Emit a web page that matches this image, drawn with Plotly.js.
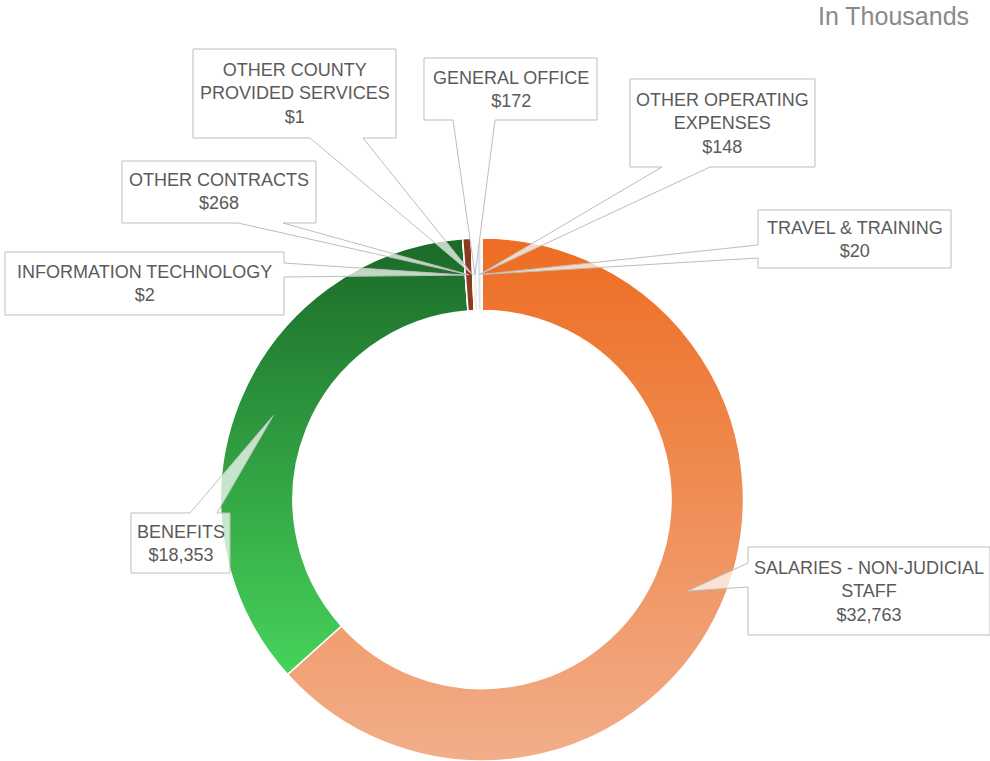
<!DOCTYPE html>
<html>
<head>
<meta charset="utf-8">
<script src="https://cdn.plot.ly/plotly-3.0.1.min.js"></script>
<style>
  html, body { margin: 0; padding: 0; background: #ffffff; }
  #chart { width: 990px; height: 761px; }
</style>
</head>
<body>
<div id="chart"></div>
<script>
// ---- data ----
const categories = [
  "SALARIES - NON-JUDICIAL STAFF",
  "BENEFITS",
  "INFORMATION TECHNOLOGY",
  "OTHER CONTRACTS",
  "OTHER COUNTY PROVIDED SERVICES",
  "GENERAL OFFICE",
  "OTHER OPERATING EXPENSES",
  "TRAVEL & TRAINING"
];
const labelLines = [
  ["SALARIES - NON-JUDICIAL", "STAFF"],
  ["BENEFITS"],
  ["INFORMATION TECHNOLOGY"],
  ["OTHER CONTRACTS"],
  ["OTHER COUNTY", "PROVIDED SERVICES"],
  ["GENERAL OFFICE"],
  ["OTHER OPERATING", "EXPENSES"],
  ["TRAVEL & TRAINING"]
];
const values = [32763, 18353, 2, 268, 1, 172, 148, 20];
const unitNote = "In Thousands";

// ---- styles ----
const sliceColors = ["#EF8A4E", "#2E9A3C", "#1B5E20", "#8A3B22", "#C9D9E8", "#F3EFE8", "#D5E4F1", "#E8F1F8"];
const gradients = {
  0: ["#ED6D22", "#F2AE8A"],
  1: ["#1B6A28", "#46D35B"]
};
const W = 990, H = 761;
const CX = 482, CY = 499.5, R_TIP = 225;
// callout boxes in px: [x0, y0, x1, y1], side of wedge, wedge base [a, b]
const callouts = [
  { box: [748, 547, 990, 635], side: "left",   base: [563, 587] },
  { box: [131, 513, 230, 573], side: "top",    base: [190, 217] },
  { box: [5, 252, 284, 315],   side: "right",  base: [263, 277] },
  { box: [122, 161, 316, 223], side: "bottom", base: [238, 283] },
  { box: [193, 49, 396, 138],  side: "bottom", base: [310, 363] },
  { box: [424, 58, 597, 120],  side: "bottom", base: [453, 495] },
  { box: [630, 79, 815, 167],  side: "bottom", base: [662, 710] },
  { box: [758, 210, 951, 268], side: "left",   base: [245, 258] }
];

const px = x => x / W;
const py = y => 1 - y / H;
const P = (x, y) => px(x).toFixed(5) + "," + py(y).toFixed(5);

// tip positions computed from slice mid-angles
const total = values.reduce((a, b) => a + b, 0);
let cum = 0;
const tips = values.map(v => {
  const mid = (cum + v / 2) / total * 2 * Math.PI;
  cum += v;
  return [CX + R_TIP * Math.sin(mid), CY - R_TIP * Math.cos(mid)];
});

const shapes = callouts.map((c, i) => {
  const [x0, y0, x1, y1] = c.box;
  const [a, b] = c.base;
  const [tx, ty] = tips[i];
  let d;
  if (c.side === "bottom") {
    d = `M${P(x0,y0)} L${P(x1,y0)} L${P(x1,y1)} L${P(b,y1)} L${P(tx,ty)} L${P(a,y1)} L${P(x0,y1)} Z`;
  } else if (c.side === "top") {
    d = `M${P(x0,y0)} L${P(a,y0)} L${P(tx,ty)} L${P(b,y0)} L${P(x1,y0)} L${P(x1,y1)} L${P(x0,y1)} Z`;
  } else if (c.side === "left") {
    d = `M${P(x0,y0)} L${P(x1,y0)} L${P(x1,y1)} L${P(x0,y1)} L${P(x0,b)} L${P(tx,ty)} L${P(x0,a)} Z`;
  } else {
    d = `M${P(x0,y0)} L${P(x1,y0)} L${P(x1,a)} L${P(tx,ty)} L${P(x1,b)} L${P(x1,y1)} L${P(x0,y1)} Z`;
  }
  return {
    type: "path", xref: "paper", yref: "paper", path: d, layer: "above",
    fillcolor: "rgba(255,255,255,0.72)",
    line: { color: "#BDBDBD", width: 1 }
  };
});

const fmt = v => "$" + v.toLocaleString("en-US");
const annotations = callouts.map((c, i) => {
  const [x0, y0, x1, y1] = c.box;
  return {
    xref: "paper", yref: "paper",
    x: px((x0 + x1) / 2), y: py((y0 + y1) / 2),
    xanchor: "center", yanchor: "middle",
    text: labelLines[i].concat([fmt(values[i])]).join("<br>"),
    showarrow: false, align: "center",
    font: { family: "Liberation Sans, Arial, sans-serif", size: 18, color: "#5A5A5A" }
  };
});
annotations.push({
  xref: "paper", yref: "paper", x: px(971), y: py(16),
  xanchor: "right", yanchor: "middle", showarrow: false,
  text: unitNote,
  font: { family: "Liberation Sans, Arial, sans-serif", size: 25, color: "#8A8A8A" }
});

const data = [{
  type: "pie",
  labels: categories,
  values: values,
  sort: false,
  direction: "clockwise",
  rotation: 0,
  hole: 0.723,
  textinfo: "none",
  hoverinfo: "none",
  showlegend: false,
  domain: { x: [220 / W, 744 / W], y: [0, 523 / H] },
  marker: { colors: sliceColors, line: { color: "#FFFFFF", width: 1.5 } }
}];

const layout = {
  width: W, height: H,
  margin: { l: 0, r: 0, t: 0, b: 0 },
  paper_bgcolor: "#FFFFFF",
  plot_bgcolor: "#FFFFFF",
  showlegend: false,
  shapes: shapes,
  annotations: annotations
};

Plotly.newPlot("chart", data, layout, { staticPlot: true, displayModeBar: false }).then(gd => {
  try {
    const svg = gd.querySelector("svg.main-svg");
    const ns = "http://www.w3.org/2000/svg";
    let defs = svg.querySelector("defs");
    if (!defs) { defs = document.createElementNS(ns, "defs"); svg.insertBefore(defs, svg.firstChild); }
    Object.keys(gradients).forEach(k => {
      const g = document.createElementNS(ns, "linearGradient");
      g.setAttribute("id", "sliceGrad" + k);
      g.setAttribute("x1", "0"); g.setAttribute("y1", "0");
      g.setAttribute("x2", "0"); g.setAttribute("y2", "1");
      [[0, gradients[k][0]], [1, gradients[k][1]]].forEach(([o, c]) => {
        const s = document.createElementNS(ns, "stop");
        s.setAttribute("offset", o);
        s.setAttribute("stop-color", c);
        g.appendChild(s);
      });
      defs.appendChild(g);
    });
    const slices = gd.querySelectorAll(".pielayer .slice");
    slices.forEach(sl => {
      const d = sl.__data__;
      const idx = d && d.i !== undefined ? d.i : (d && d.pts ? d.pts[0] : null);
      if (gradients[idx]) {
        const p = sl.querySelector("path.surface");
        if (p) p.style.fill = "url(#sliceGrad" + idx + ")";
      }
    });
  } catch (e) { /* keep solid fallback colours */ }
});
</script>
</body>
</html>
